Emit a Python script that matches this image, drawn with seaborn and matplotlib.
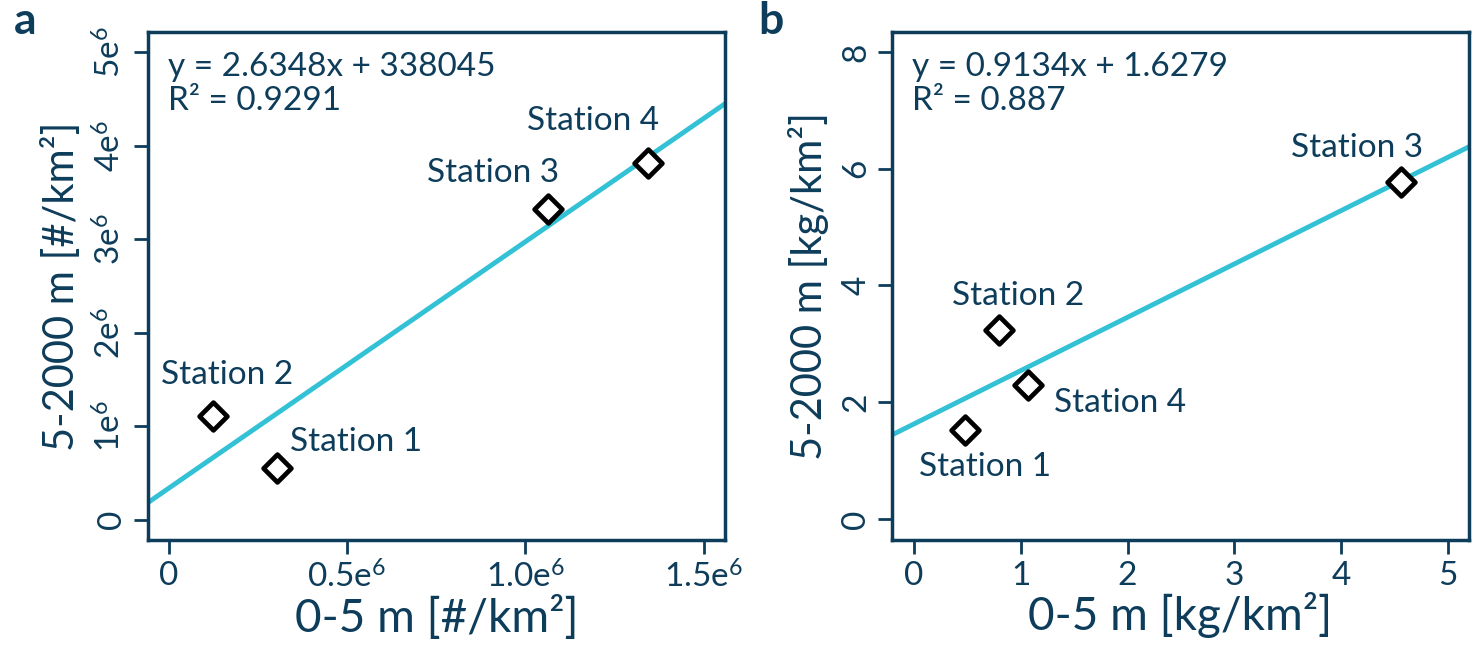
import matplotlib
matplotlib.use("Agg")
import matplotlib.pyplot as plt
import seaborn as sns
import pandas as pd

# ---- data ----
stations = ["Station 1", "Station 2", "Station 3", "Station 4"]
a_x = [0.304e6, 0.124e6, 1.064e6, 1.345e6]
a_y = [0.558e6, 1.105e6, 3.326e6, 3.820e6]
b_x = [0.478, 0.796, 4.56, 1.067]
b_y = [1.524, 3.236, 5.77, 2.295]
a_fit = (2.6348, 338045)
b_fit = (0.9134, 1.6279)
a_eq = "y = 2.6348x + 338045\nR² = 0.9291"
b_eq = "y = 0.9134x + 1.6279\nR² = 0.887"
a_xticks = [0, 0.5e6, 1.0e6, 1.5e6]
a_xticklabels = ["0", "0.5e$^6$", "1.0e$^6$", "1.5e$^6$"]
a_yticks = [0, 1e6, 2e6, 3e6, 4e6, 5e6]
a_yticklabels = ["0", "1e$^6$", "2e$^6$", "3e$^6$", "4e$^6$", "5e$^6$"]
b_xticks = [0, 1, 2, 3, 4, 5]
b_yticks = [0, 2, 4, 6, 8]

NAVY = "#0e3d5b"
CYAN = "#33c1d6"

sns.set_theme(style="white")
plt.rcParams["font.family"] = ["Lato", "DejaVu Sans"]
plt.rcParams["mathtext.fontset"] = "custom"
plt.rcParams["mathtext.rm"] = "Lato"
plt.rcParams["mathtext.it"] = "Lato"
plt.rcParams["mathtext.default"] = "regular"
plt.rcParams["text.color"] = NAVY
plt.rcParams["axes.labelcolor"] = NAVY
plt.rcParams["xtick.color"] = NAVY
plt.rcParams["ytick.color"] = NAVY

fig = plt.figure(figsize=(14.81, 6.48), dpi=100)
axa = fig.add_axes([0.0997, 0.1667, 0.3898, 0.7839])
axb = fig.add_axes([0.6023, 0.1667, 0.3896, 0.7839])

# label offsets in pixels (dx, dy)
a_off = [(79, 26), (14, 41), (-55, 36), (-55, 42)]
b_off = [(20, -37), (19, 34), (-44, 34), (92, -18)]


def panel(ax, xs, ys, fit, eq, offs, xlim, ylim, xticks, xtl, yticks, ytl, xlabel, ylabel, letter):
    df = pd.DataFrame({"x": xs, "y": ys, "station": stations})
    ax.set_xlim(*xlim)
    ax.set_ylim(*ylim)
    ax.axline((0, fit[1]), slope=fit[0], color=CYAN, lw=3.5, zorder=1)
    sns.scatterplot(data=df, x="x", y="y", ax=ax, marker="D", s=200,
                    facecolor="white", edgecolor="black", linewidth=3.4, zorder=3)
    for (_, r), (dx, dy) in zip(df.iterrows(), offs):
        ax.annotate(r["station"], (r["x"], r["y"]), xytext=(dx, dy),
                    textcoords="offset pixels", ha="center", va="center",
                    fontsize=24, color=NAVY)
    ax.text(0.035, 0.96, eq, transform=ax.transAxes, ha="left", va="top",
            fontsize=24, color=NAVY, linespacing=1.15)
    ax.set_xticks(xticks)
    ax.set_xticklabels(xtl)
    ax.set_yticks(yticks)
    ax.set_yticklabels(ytl, rotation=90, va="center")
    ax.tick_params(axis="both", length=10, width=2, labelsize=24, pad=5,
                   bottom=True, left=True, direction="out")
    for sp in ax.spines.values():
        sp.set_color(NAVY)
        sp.set_linewidth(2.5)
    ax.set_xlabel(xlabel, fontsize=33, labelpad=1)
    ax.set_ylabel(ylabel, fontsize=30, labelpad=9)
    ax.grid(False)
    fig.text(ax.get_position().x0 - 0.09, 0.998, letter, fontsize=32,
             fontweight="bold", color=NAVY, ha="left", va="top")


panel(axa, a_x, a_y, a_fit, a_eq, a_off, (-0.059e6, 1.56e6), (-0.215e6, 5.215e6),
      a_xticks, a_xticklabels, a_yticks, a_yticklabels,
      "0-5 m [#/km²]", "5-2000 m [#/km²]", "a")
panel(axb, b_x, b_y, b_fit, b_eq, b_off, (-0.206, 5.197), (-0.36, 8.34),
      b_xticks, [str(v) for v in b_xticks], b_yticks, [str(v) for v in b_yticks],
      "0-5 m [kg/km²]", "5-2000 m [kg/km²]", "b")

fig.savefig("out.png", dpi=100)
